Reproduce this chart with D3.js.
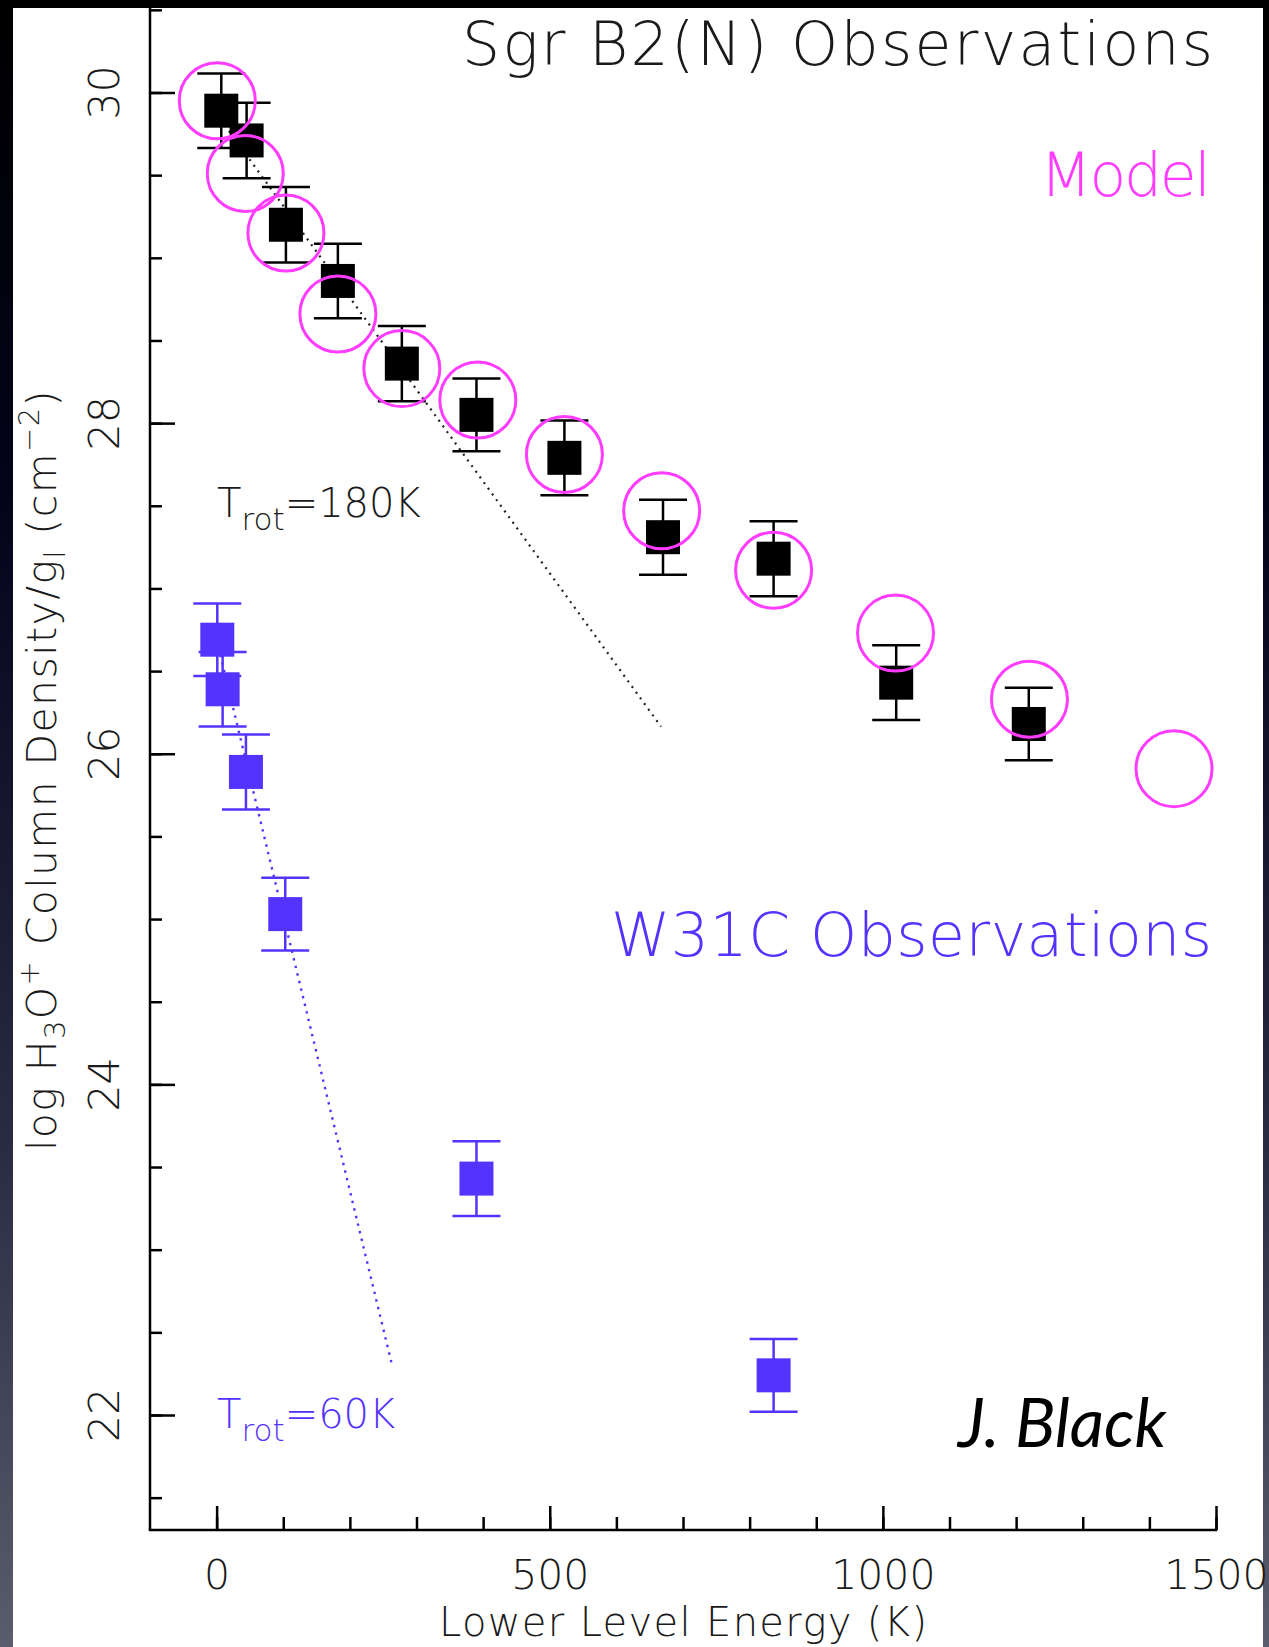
<!DOCTYPE html>
<html>
<head>
<meta charset="utf-8">
<script src="https://cdn.jsdelivr.net/npm/d3@7"></script>
<style>
  html, body { margin: 0; padding: 0; background: #000; }
  svg { display: block; }
</style>
</head>
<body>
<svg id="chart" width="1269" height="1647"></svg>
<script>
// H3O+ rotation diagram: Sgr B2(N) and W31C level populations with model

// Sgr B2(N) observations: lower level energy (K), log N/g, 1-sigma error
const sgrEnergy = [7, 45, 104, 182, 278, 390, 522, 670, 836, 1020, 1219];
const sgrLogN   = [29.89, 29.71, 29.20, 28.86, 28.36, 28.05, 27.79, 27.31, 27.18, 26.43, 26.18];
const sgrErr    = [0.225, 0.228, 0.228, 0.225, 0.227, 0.22, 0.226, 0.227, 0.227, 0.226, 0.22];

// Model level populations
const modelEnergy = [1, 43, 104, 182, 278, 392, 522, 668, 836, 1019, 1220, 1437];
const modelLogN   = [29.95, 29.51, 29.15, 28.66, 28.33, 28.14, 27.81, 27.47, 27.11, 26.73, 26.33, 25.91];

// W31C observations
const w31Energy = [1, 9, 44, 103, 390, 836];
const w31LogN   = [26.69, 26.39, 25.89, 25.03, 23.43, 22.24];
const w31Err    = [0.219, 0.225, 0.227, 0.22, 0.226, 0.22];

// Rotation temperature fits: ln N/g = intercept - E / Trot
const sgrTrot = 180, sgrIntercept = 29.87, sgrFitEnergy = [0, 667];
const w31Trot = 60,  w31Intercept = 26.69, w31FitEnergy = [0, 264];

// Axis ticks
const xMajorTicks = [0, 500, 1000, 1500];
const xMinorTicks = [0, 100, 200, 300, 400, 500, 600, 700, 800, 900, 1000, 1100, 1200, 1300, 1400, 1500];
const yMajorTicks = [22, 24, 26, 28, 30];
const yMinorTicks = [21.5, 22, 22.5, 23, 23.5, 24, 24.5, 25, 25.5, 26, 26.5, 27, 27.5, 28, 28.5, 29, 29.5, 30, 30.5];

const BLACK = "#000000";
const BLUE = "#5533ff";
const MAGENTA = "#ff3cff";
const PLOT_FONT = "'DejaVu Sans', 'Liberation Sans', sans-serif";

const svg = d3.select("#chart");
const W = 1269, H = 1647;

// slide backdrop and white figure panel
const defs = svg.append("defs");
const grad = defs.append("linearGradient").attr("id", "slideBg")
  .attr("x1", 0).attr("y1", 0).attr("x2", 0).attr("y2", 1);
grad.append("stop").attr("offset", "0").attr("stop-color", "#000000");
grad.append("stop").attr("offset", "0.3").attr("stop-color", "#03031a");
grad.append("stop").attr("offset", "0.7").attr("stop-color", "#2a2c44");
grad.append("stop").attr("offset", "1").attr("stop-color", "#5a5d6c");
svg.append("rect").attr("width", W).attr("height", H).attr("fill", "url(#slideBg)");
svg.append("rect").attr("x", 13).attr("y", 8).attr("width", 1263 - 13).attr("height", H - 8).attr("fill", "#ffffff");

// scales
const x = d3.scaleLinear().domain([-100, 1500]).range([150, 1216]);
const y = d3.scaleLinear().domain([22, 30]).range([1415, 92.5]);
const x0 = x(-100), yBase = 1530;

// axes: minor and major ticks drawn inward
const axisStyle = g => {
  g.select(".domain").remove();
  g.selectAll(".tick line").attr("stroke", BLACK).attr("stroke-width", 2.5);
};

svg.append("g").attr("transform", `translate(0,${yBase})`)
  .call(d3.axisBottom(x).tickValues(xMinorTicks).tickSize(-13).tickFormat(""))
  .call(axisStyle);
svg.append("g").attr("transform", `translate(0,${yBase})`)
  .call(d3.axisBottom(x).tickValues(xMajorTicks).tickSize(-24).tickPadding(30).tickFormat(d3.format("d")))
  .call(axisStyle)
  .call(g => g.selectAll(".tick text")
    .attr("font-family", PLOT_FONT).attr("font-weight", 200)
    .attr("font-size", 41).attr("fill", "#1a1a1a"));

svg.append("g").attr("transform", `translate(${x0},0)`)
  .call(d3.axisLeft(y).tickValues(yMinorTicks).tickSize(-12).tickFormat(""))
  .call(axisStyle);
svg.append("g").attr("transform", `translate(${x0},0)`)
  .call(d3.axisLeft(y).tickValues(yMajorTicks).tickSize(-25).tickFormat(""))
  .call(axisStyle);

// rotated y tick labels
svg.append("g").selectAll("text").data(yMajorTicks).join("text")
  .attr("transform", d => `translate(119,${y(d)}) rotate(-90)`)
  .attr("text-anchor", "middle")
  .attr("font-family", PLOT_FONT).attr("font-weight", 200)
  .attr("font-size", 43).attr("fill", "#1a1a1a")
  .text(d => d);

// axis lines
svg.append("line").attr("x1", x0).attr("x2", x0).attr("y1", 0).attr("y2", yBase)
  .attr("stroke", BLACK).attr("stroke-width", 2.5);
svg.append("line").attr("x1", x0 - 1.25).attr("x2", x(1500) + 1.25).attr("y1", yBase).attr("y2", yBase)
  .attr("stroke", BLACK).attr("stroke-width", 2.5);

// axis titles
svg.append("text")
  .attr("x", 439).attr("y", 1636)
  .attr("textLength", 488).attr("lengthAdjust", "spacing")
  .attr("font-family", PLOT_FONT).attr("font-weight", 200)
  .attr("font-size", 40).attr("fill", "#1a1a1a")
  .text("Lower Level Energy (K)");

const yTitle = svg.append("text")
  .attr("transform", "translate(56,770) rotate(-90)")
  .attr("text-anchor", "middle")
  .attr("letter-spacing", 1.4)
  .attr("font-family", PLOT_FONT).attr("font-weight", 200)
  .attr("font-size", 41).attr("fill", "#1a1a1a");
yTitle.append("tspan").text("log H");
yTitle.append("tspan").attr("font-size", 29).attr("dy", 9).text("3");
yTitle.append("tspan").attr("dy", -9).text("O");
yTitle.append("tspan").attr("font-size", 29).attr("dy", -17).text("+");
yTitle.append("tspan").attr("dy", 17).text(" Column Density/g");
yTitle.append("tspan").attr("font-size", 29).attr("dy", 9).text("l");
yTitle.append("tspan").attr("dy", -9).text(" (cm");
yTitle.append("tspan").attr("font-size", 29).attr("dy", -17).text("\u22122");
yTitle.append("tspan").attr("dy", 17).text(")");

// dotted rotation-temperature fits
const fitLine = d3.line().x(d => x(d[0])).y(d => y(d[1]));
svg.append("path")
  .attr("d", fitLine(sgrFitEnergy.map(e => [e, sgrIntercept - e / sgrTrot])))
  .attr("fill", "none").attr("stroke", "#222").attr("stroke-width", 2.2)
  .attr("stroke-dasharray", "2,5");
svg.append("path")
  .attr("d", fitLine(w31FitEnergy.map(e => [e, w31Intercept - e / w31Trot])))
  .attr("fill", "none").attr("stroke", BLUE).attr("stroke-width", 2.4)
  .attr("stroke-dasharray", "2.4,5.4");

// observed points with error bars
const SQ = 34, CAP = 24;
function drawObs(energies, logN, errs, color) {
  const pts = energies.map((e, i) => ({ e, v: logN[i], err: errs[i] }));
  const g = svg.append("g").attr("stroke", color).attr("stroke-width", 2.5);
  const pt = g.selectAll("g").data(pts).join("g");
  pt.append("line")
    .attr("x1", d => x(d.e)).attr("x2", d => x(d.e))
    .attr("y1", d => y(d.v + d.err)).attr("y2", d => y(d.v - d.err));
  pt.append("line")
    .attr("x1", d => x(d.e) - CAP).attr("x2", d => x(d.e) + CAP)
    .attr("y1", d => y(d.v + d.err)).attr("y2", d => y(d.v + d.err));
  pt.append("line")
    .attr("x1", d => x(d.e) - CAP).attr("x2", d => x(d.e) + CAP)
    .attr("y1", d => y(d.v - d.err)).attr("y2", d => y(d.v - d.err));
  pt.append("rect")
    .attr("x", d => x(d.e) - SQ / 2).attr("y", d => y(d.v) - SQ / 2)
    .attr("width", SQ).attr("height", SQ)
    .attr("fill", color).attr("stroke", "none");
}
drawObs(sgrEnergy, sgrLogN, sgrErr, BLACK);
drawObs(w31Energy, w31LogN, w31Err, BLUE);

// model circles
svg.append("g").selectAll("circle")
  .data(modelEnergy.map((e, i) => ({ e, v: modelLogN[i] })))
  .join("circle")
  .attr("cx", d => x(d.e)).attr("cy", d => y(d.v)).attr("r", 38)
  .attr("fill", "none").attr("stroke", MAGENTA).attr("stroke-width", 3);

// annotations, pinned to their printed extents
const note = (txt, xStart, width, yy, color) => svg.append("text")
  .attr("x", xStart).attr("y", yy)
  .attr("textLength", width).attr("lengthAdjust", "spacing")
  .attr("font-family", PLOT_FONT).attr("font-weight", 200)
  .attr("font-size", 60).attr("fill", color).text(txt);
note("Sgr B2(N) Observations", 462, 751, 65, "#1a1a1a");
note("Model", 1040, 171, 196, MAGENTA);
note("W31C Observations", 611, 601, 956, BLUE);

function trotLabel(value, xx, yy, color) {
  const t = svg.append("text").attr("x", xx).attr("y", yy)
    .attr("font-family", PLOT_FONT).attr("font-weight", 200)
    .attr("font-size", 40).attr("fill", color);
  t.append("tspan").text("T");
  t.append("tspan").attr("font-size", 31).attr("dy", 13).text("rot");
  t.append("tspan").attr("dy", -13).text("=" + value + "K");
}
trotLabel(sgrTrot, 217, 517, "#1a1a1a");
trotLabel(w31Trot, 217, 1428, BLUE);

svg.append("text")
  .attr("x", 958).attr("y", 1447)
  .attr("font-family", "Lato, 'Open Sans', sans-serif")
  .attr("font-style", "italic").attr("font-weight", 400)
  .attr("font-size", 67).attr("fill", "#000")
  .text("J. Black");
</script>
</body>
</html>
